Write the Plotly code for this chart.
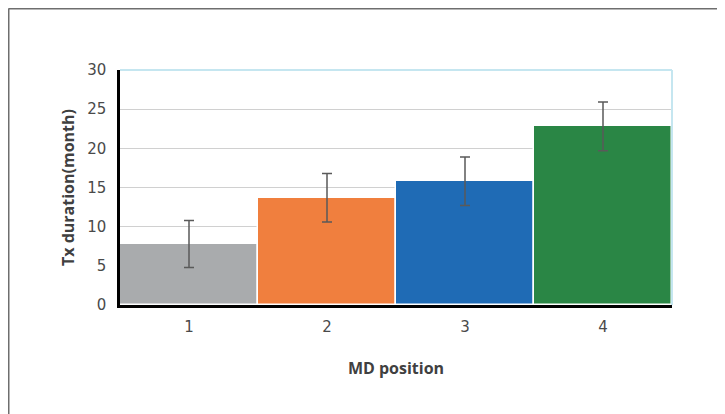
import plotly.graph_objects as go

categories = ["1", "2", "3", "4"]
values = [7.8, 13.7, 15.8, 22.8]
errors = [3.0, 3.1, 3.1, 3.1]
colors = ["#a9abad", "#f07f3e", "#1f6bb5", "#2a8645"]
y_ticks = [0, 5, 10, 15, 20, 25, 30]

# page has an 8px body margin, so the figure is shrunk and offset accordingly
OFF = 8
W, H = 725 - OFF, 414 - OFF
L, R, T, B = 120 - OFF, 53, 70 - OFF, 109
pw, ph = W - L - R, H - T - B

def px(x):
    return (x - L) / pw

def py(y):
    return (H - B - y) / ph

fig = go.Figure(go.Bar(
    x=categories, y=values,
    marker=dict(color=colors, line=dict(color="white", width=1.5)),
    error_y=dict(type="data", array=errors, color="#5a5a5a", thickness=1.5, width=5),
    width=1.0,
))

tick_font = dict(family="DejaVu Sans", size=15, color="#4a4a4a")
fig.update_layout(
    width=W, height=H,
    margin=dict(l=L, r=R, t=T, b=B),
    paper_bgcolor="white", plot_bgcolor="white",
    showlegend=False, bargap=0,
    xaxis=dict(
        tickfont=tick_font, showgrid=False, ticks="", ticklen=0,
        showline=True, linecolor="black", linewidth=2.5, ticklabelstandoff=6,
        title=dict(text="<b>MD position</b>", font=dict(family="Open Sans", size=16, color="#404040"), standoff=29),
        range=[-0.5, 3.5],
    ),
    yaxis=dict(
        tickvals=y_ticks, range=[0, 30], tickfont=tick_font,
        showgrid=True, gridcolor="#d0d0d0", gridwidth=1.2,
        zeroline=False, showline=True, linecolor="black", linewidth=2.5,
        ticks="", ticklabelstandoff=8,
        title=dict(text="<b>Tx duration(month)</b>", font=dict(family="Open Sans", size=16, color="#404040"), standoff=9),
    ),
    shapes=[
        dict(type="line", xref="paper", yref="paper", x0=0, x1=1, y0=1, y1=1,
             line=dict(color="#c5e6f0", width=2)),
        dict(type="line", xref="paper", yref="paper", x0=1, x1=1, y0=0, y1=1,
             line=dict(color="#c5e6f0", width=2)),
        dict(type="line", xref="paper", yref="paper", x0=px(0.5), x1=px(W + 5), y0=py(0.5), y1=py(0.5),
             line=dict(color="#6e6e6e", width=2)),
        dict(type="line", xref="paper", yref="paper", x0=px(0.5), x1=px(0.5), y0=py(0.5), y1=py(H + 5),
             line=dict(color="#6e6e6e", width=2)),
    ],
)

fig.write_html("out.html")
